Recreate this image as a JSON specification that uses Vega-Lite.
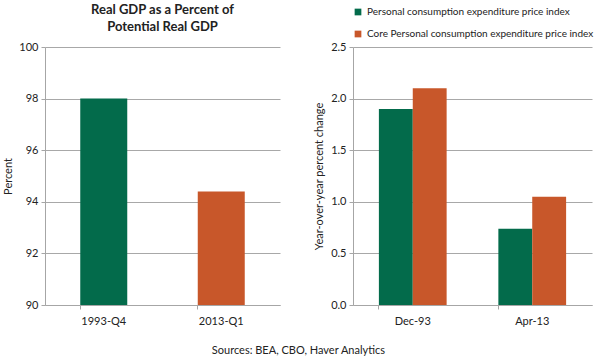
{
  "$schema": "https://vega.github.io/schema/vega-lite/v6.json",
  "background": "white",
  "padding": {"left": 2, "right": 8, "top": 4, "bottom": 2},
  "config": {
    "font": "Lato",
    "view": {"stroke": null},
    "axis": {
      "labelFont": "Lato", "titleFont": "Lato", "labelFontSize": 11, "titleFontSize": 11,
      "labelColor": "#222222", "titleColor": "#222222", "titleFontWeight": "normal",
      "domainColor": "#a6a6a6", "tickColor": "#a6a6a6", "tickSize": 4
    },
    "legend": {"labelFont": "Lato", "labelFontSize": 10, "labelColor": "#222222"},
    "concat": {"spacing": 33}
  },
  "resolve": {"scale": {"color": "independent"}, "legend": {"color": "independent"}},
  "title": {
    "text": "Sources: BEA, CBO, Haver Analytics",
    "orient": "bottom", "anchor": "middle", "fontSize": 11, "fontWeight": "normal",
    "font": "Lato", "color": "#222222", "offset": 19
  },
  "hconcat": [
    {
      "width": 235, "height": 258,
      "title": {
        "text": ["Real GDP as a Percent of", "Potential Real GDP"],
        "fontSize": 13, "fontWeight": "bold", "font": "Lato", "color": "#222222",
        "anchor": "middle", "offset": 7, "lineHeight": 17
      },
      "data": {"values": [
        {"period": "1993-Q4", "value": 98.0},
        {"period": "2013-Q1", "value": 94.4}
      ]},
      "mark": {"type": "bar"},
      "encoding": {
        "x": {
          "field": "period", "type": "nominal", "sort": null,
          "scale": {"paddingInner": 0.6, "paddingOuter": 0.3},
          "axis": {"title": null, "labelAngle": 0, "bandPosition": 0, "labelPadding": 6}
        },
        "y": {
          "field": "value", "type": "quantitative",
          "scale": {"domain": [90, 100], "zero": false, "nice": false},
          "axis": {"title": "Percent", "grid": true, "gridColor": "#a8a8a8", "gridWidth": 1, "gridOpacity": 1, "values": [90, 92, 94, 96, 98, 100], "titlePadding": 5, "labelPadding": 3}
        },
        "y2": {"datum": 90},
        "color": {
          "field": "period", "type": "nominal", "sort": null,
          "scale": {"range": ["#036b4b", "#c8572a"]}, "legend": null
        }
      }
    },
    {
      "width": 239, "height": 258,
      "data": {"values": [
        {"date": "Dec-93", "series": "Personal consumption expenditure price index", "value": 1.9},
        {"date": "Dec-93", "series": "Core Personal consumption expenditure price index", "value": 2.1},
        {"date": "Apr-13", "series": "Personal consumption expenditure price index", "value": 0.74},
        {"date": "Apr-13", "series": "Core Personal consumption expenditure price index", "value": 1.05}
      ]},
      "mark": {"type": "bar"},
      "encoding": {
        "x": {
          "field": "date", "type": "nominal", "sort": null,
          "scale": {"paddingInner": 0.433, "paddingOuter": 0.2167},
          "axis": {"title": null, "labelAngle": 0, "bandPosition": 0, "labelPadding": 6}
        },
        "xOffset": {"field": "series", "type": "nominal", "sort": null, "scale": {"paddingInner": 0, "paddingOuter": 0}},
        "y": {
          "field": "value", "type": "quantitative",
          "scale": {"domain": [0, 2.5], "nice": false},
          "axis": {"title": "Year-over-year percent change", "grid": true, "gridColor": "#a8a8a8", "gridWidth": 1, "gridOpacity": 1, "values": [0, 0.5, 1, 1.5, 2, 2.5], "format": ".1f", "titlePadding": 6, "labelPadding": 3}
        },
        "color": {
          "field": "series", "type": "nominal", "sort": null,
          "scale": {"range": ["#036b4b", "#c8572a"]},
          "legend": {
            "title": null, "orient": "top", "direction": "vertical", "offset": 8,
            "symbolType": "square", "symbolSize": 45, "rowPadding": 12, "labelLimit": 300
          }
        }
      }
    }
  ]
}
